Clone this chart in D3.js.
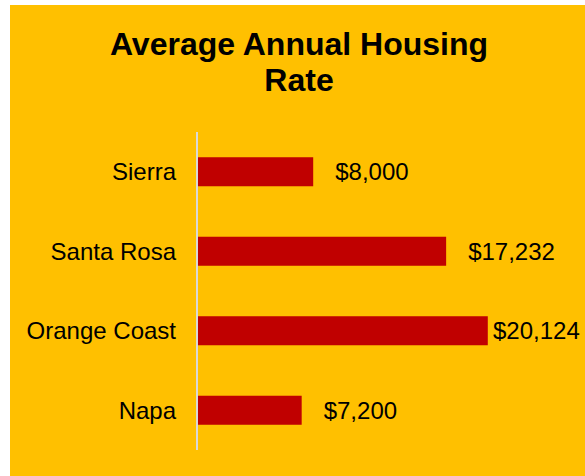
<!DOCTYPE html>
<html>
<head>
<meta charset="utf-8">
<script src="https://cdn.jsdelivr.net/npm/d3@7"></script>
<style>
  body { margin: 0; background: #fff; }
  svg { display: block; font-family: "Liberation Sans", Arial, sans-serif; }
</style>
</head>
<body>
<svg id="chart" width="585" height="476"></svg>
<script>
const categories = ['Sierra', 'Santa Rosa', 'Orange Coast', 'Napa'];
const rates = [8000, 17232, 20124, 7200];
const titleLines = ['Average Annual Housing', 'Rate'];

const svg = d3.select('#chart');
const width = 585, height = 476;

// yellow chart area (white strip top & left)
svg.append('rect')
    .attr('x', 10).attr('y', 5)
    .attr('width', width - 10).attr('height', height - 5)
    .attr('fill', '#FFC000');

const xScale = d3.scaleLinear()
    .domain([0, 25000])
    .range([198, 558]);
const yScale = d3.scaleBand()
    .domain(categories)
    .range([132, 450])
    .paddingInner(0.635)
    .paddingOuter(0.3175);

const data = categories.map((c, i) => ({ name: c, value: rates[i] }));

svg.selectAll('text.title')
    .data(titleLines)
    .enter()
    .append('text')
    .attr('class', 'title')
    .attr('x', 299)
    .attr('y', (d, i) => 55 + i * 36)
    .attr('text-anchor', 'middle')
    .attr('font-size', '32px')
    .attr('font-weight', 'bold')
    .attr('fill', '#000')
    .text(d => d);

svg.selectAll('rect.bar')
    .data(data)
    .enter()
    .append('rect')
    .attr('class', 'bar')
    .attr('x', xScale(0))
    .attr('y', d => yScale(d.name))
    .attr('width', d => xScale(d.value) - xScale(0))
    .attr('height', yScale.bandwidth())
    .attr('fill', '#C00000');

// category axis
const yAxis = d3.axisLeft(yScale).tickSize(0).tickPadding(21);
const g = svg.append('g')
    .attr('transform', 'translate(' + (xScale(0) - 1) + ',0)')
    .call(yAxis);
g.select('.domain').remove();
g.append('line')
    .attr('x1', 0).attr('x2', 0)
    .attr('y1', 132).attr('y2', 450)
    .attr('stroke', '#D9D9D9')
    .attr('stroke-width', 2);
g.selectAll('.tick text')
    .attr('font-family', '"Liberation Sans", Arial, sans-serif')
    .attr('font-size', '24px')
    .attr('fill', '#000')
    .attr('dy', '0.35em');

const fmt = d3.format('$,');
svg.selectAll('text.value')
    .data(data)
    .enter()
    .append('text')
    .attr('class', 'value')
    .attr('x', d => Math.min(xScale(d.value) + 22, 493))
    .attr('y', d => yScale(d.name) + yScale.bandwidth() / 2)
    .attr('dy', '0.35em')
    .attr('font-size', '24px')
    .attr('fill', '#000')
    .text(d => fmt(d.value));
</script>
</body>
</html>
